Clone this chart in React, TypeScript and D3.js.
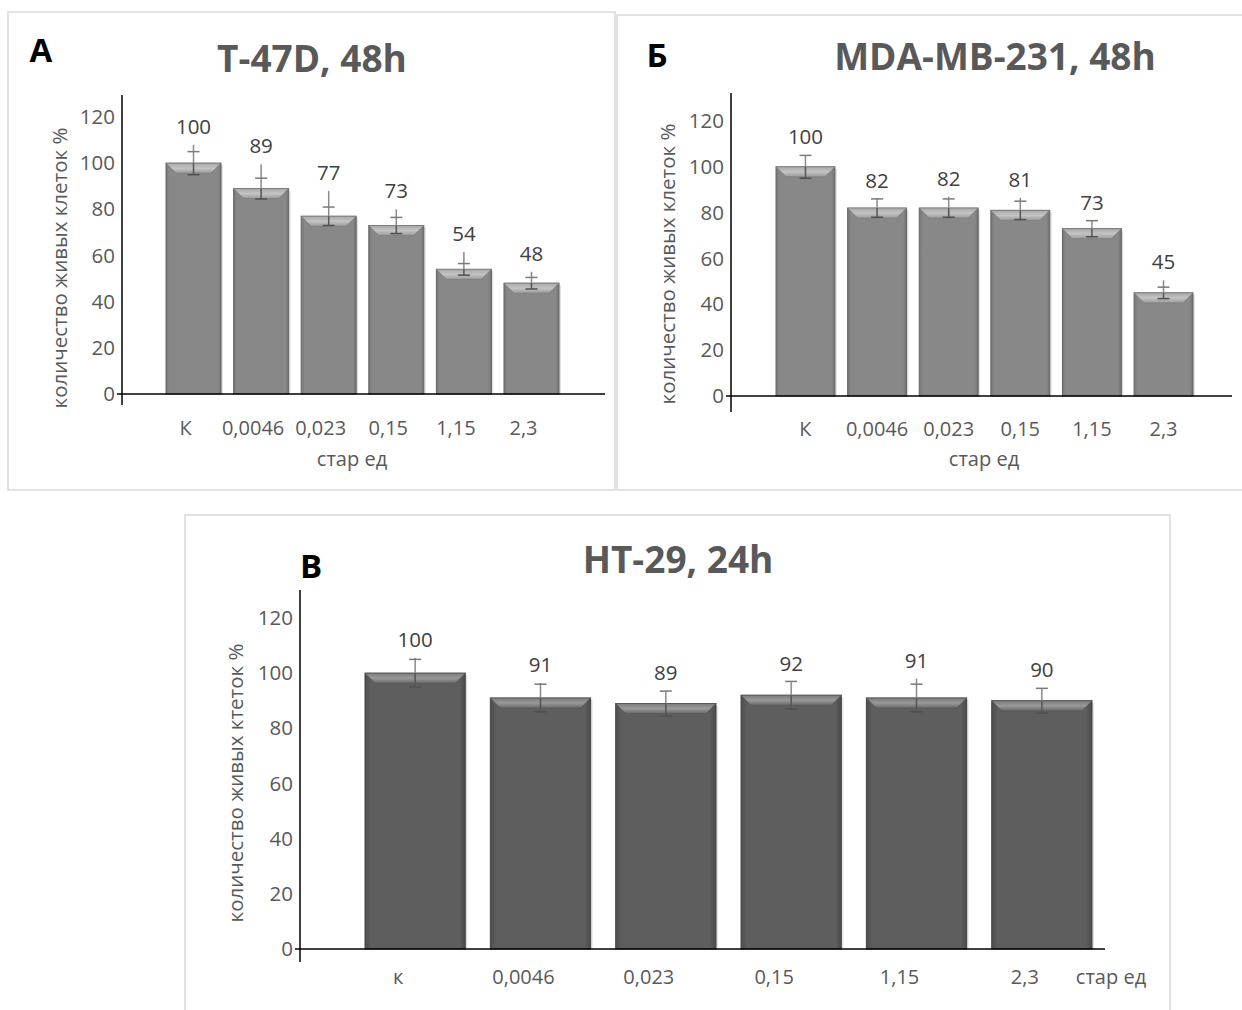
import React from "react";
import * as d3 from "d3";

// ---------- data ----------
const categoriesA = ["К", "0,0046", "0,023", "0,15", "1,15", "2,3"];
const valuesA = [100, 89, 77, 73, 54, 48];
const errorsA = [5, 4.5, 4, 3.5, 2.5, 2.5];
const whiskerTopA = [108, 99.5, 88, 80, 61.5, 53];

const categoriesB = ["К", "0,0046", "0,023", "0,15", "1,15", "2,3"];
const valuesB = [100, 82, 82, 81, 73, 45];
const errorsB = [5, 4, 4, 4, 3.5, 2.5];
const whiskerTopB = [105, 86, 87, 86.5, 76.5, 50.5];

const categoriesC = ["к", "0,0046", "0,023", "0,15", "1,15", "2,3"];
const valuesC = [100, 91, 89, 92, 91, 90];
const errorsC = [5, 5, 4.5, 5, 5, 4.5];
const whiskerTopC = [105.5, 96.5, 93.5, 96.7, 98, 94.6];

const yTicks = [0, 20, 40, 60, 80, 100, 120];

const FONT = "'Open Sans', 'Noto Sans', sans-serif";
const TXT = "#595959";

type PanelCfg = {
  id: string;
  frame: [number, number, number, number];
  letter: string;
  letterPos: [number, number];
  title: string;
  titlePos: [number, number];
  categories: string[];
  values: number[];
  errors: number[];
  whiskers: number[];
  axisX: number;
  y0: number;
  y120: number;
  axisTop: number;
  axisBottom: number;
  xAxisRight: number;
  barRange: [number, number];
  padding: number;
  tickLabelY: number;
  labelShift: number;
  xTitle: string;
  xTitlePos: [number, number];
  yTitle: string;
  yTitlePos: [number, number];
  dark: boolean;
};

function Panel({ c }: { c: PanelCfg }) {
  const y = d3.scaleLinear().domain([0, 120]).range([c.y0, c.y120]);
  const x = d3
    .scaleBand<string>()
    .domain(c.categories)
    .range(c.barRange)
    .paddingInner(c.padding)
    .paddingOuter(0);
  const bw = x.bandwidth();
  const bev = 10;
  return (
    <g>
      <defs>
        <linearGradient id={`body-${c.id}`} x1="0" x2="1" y1="0" y2="0">
          <stop offset="0" stopColor={c.dark ? "#4e4e4e" : "#767676"} />
          <stop offset="0.06" stopColor={c.dark ? "#5e5e5e" : "#888888"} />
          <stop offset="0.94" stopColor={c.dark ? "#5e5e5e" : "#888888"} />
          <stop offset="1" stopColor={c.dark ? "#4a4a4a" : "#727272"} />
        </linearGradient>
        <linearGradient id={`bev-${c.id}`} x1="0" x2="0" y1="0" y2="1">
          <stop offset="0" stopColor={c.dark ? "#7a7a7a" : "#a8a8a8"} />
          <stop offset="0.5" stopColor={c.dark ? "#9a9a9a" : "#c4c4c4"} />
          <stop offset="1" stopColor={c.dark ? "#6a6a6a" : "#9a9a9a"} />
        </linearGradient>
      </defs>
      <rect
        x={c.frame[0]}
        y={c.frame[1]}
        width={c.frame[2] - c.frame[0]}
        height={c.frame[3] - c.frame[1]}
        fill="#fff"
        stroke="#d9d9d9"
        strokeWidth={1.5}
      />
      <text
        x={c.letterPos[0]}
        y={c.letterPos[1]}
        fontFamily={FONT}
        fontWeight={700}
        fontSize={33}
        fill="#000"
        textAnchor="middle"
      >
        {c.letter}
      </text>
      <text
        x={c.titlePos[0]}
        y={c.titlePos[1]}
        fontFamily={FONT}
        fontWeight={700}
        fontSize={37}
        fill={TXT}
        textAnchor="middle"
      >
        {c.title}
      </text>
      {/* y tick labels */}
      {yTicks.map((t) => (
        <text
          key={t}
          x={c.axisX - 7}
          y={y(t) + 7}
          fontFamily={FONT}
          fontSize={20.5}
          fill={TXT}
          textAnchor="end"
        >
          {t}
        </text>
      ))}
      {/* bars */}
      {c.categories.map((cat, i) => {
        const bx = x(cat)!;
        const by = y(c.values[i]);
        const h = c.y0 - by;
        return (
          <g key={cat}>
            <rect x={bx + 2} y={by + 2} width={bw} height={h - 2} fill="#cfcfcf" opacity={0.6} />
            <rect x={bx} y={by} width={bw} height={h} fill={`url(#body-${c.id})`} stroke={c.dark ? "#444" : "#666"} strokeWidth={1} />
            <polygon
              points={`${bx},${by} ${bx + bw},${by} ${bx + bw - bev},${by + bev} ${bx + bev},${by + bev}`}
              fill={`url(#bev-${c.id})`}
              stroke={c.dark ? "#555" : "#777"}
              strokeWidth={0.6}
            />
          </g>
        );
      })}
      {/* error bars + value labels */}
      {c.categories.map((cat, i) => {
        const cx = x(cat)! + bw / 2;
        const v = c.values[i];
        const e = c.errors[i];
        const yt = y(c.whiskers[i]);
        const yHi = y(v + e);
        const yLo = y(v - e);
        return (
          <g key={"e" + cat}>
            <line x1={cx} x2={cx} y1={yt} y2={y(v)} stroke="#8a8a8a" strokeWidth={1.5} />
            <line x1={cx} x2={cx} y1={y(v)} y2={yLo} stroke="#555" strokeWidth={1.5} />
            <line x1={cx - 6} x2={cx + 6} y1={yHi} y2={yHi} stroke="#7a7a7a" strokeWidth={1.5} />
            <line x1={cx - 6} x2={cx + 6} y1={yLo} y2={yLo} stroke="#505050" strokeWidth={1.5} />
            <text
              x={cx}
              y={yt - 11}
              fontFamily={FONT}
              fontSize={20.5}
              fill="#404040"
              textAnchor="middle"
            >
              {v}
            </text>
          </g>
        );
      })}
      {/* axes */}
      <line x1={c.axisX} x2={c.axisX} y1={c.axisTop} y2={c.axisBottom} stroke="#000" strokeWidth={1.5} />
      <line x1={c.axisX - 5} x2={c.xAxisRight} y1={c.y0} y2={c.y0} stroke="#000" strokeWidth={1.5} />
      {/* x tick labels */}
      {c.categories.map((cat) => (
        <text
          key={"t" + cat}
          x={x(cat)! + bw / 2 + c.labelShift}
          y={c.tickLabelY}
          fontFamily={FONT}
          fontSize={20}
          fill={TXT}
          textAnchor="middle"
        >
          {cat}
        </text>
      ))}
      <text
        x={c.xTitlePos[0]}
        y={c.xTitlePos[1]}
        fontFamily={FONT}
        fontSize={20}
        fill={TXT}
        textAnchor="middle"
      >
        {c.xTitle}
      </text>
      <text
        transform={`translate(${c.yTitlePos[0]},${c.yTitlePos[1]}) rotate(-90)`}
        fontFamily={FONT}
        fontSize={20.5}
        fill={TXT}
        textAnchor="middle"
      >
        {c.yTitle}
      </text>
    </g>
  );
}

const panels: PanelCfg[] = [
  {
    id: "a",
    frame: [8, 12, 615, 490],
    letter: "А",
    letterPos: [41, 62],
    title: "T-47D, 48h",
    titlePos: [312, 72],
    categories: categoriesA,
    values: valuesA,
    errors: errorsA,
    whiskers: whiskerTopA,
    axisX: 122,
    y0: 394,
    y120: 117,
    axisTop: 95,
    axisBottom: 405,
    xAxisRight: 605,
    barRange: [166, 559],
    padding: 0.186,
    tickLabelY: 435,
    labelShift: -8,
    xTitle: "стар ед",
    xTitlePos: [352, 466],
    yTitle: "количество живых клеток %",
    yTitlePos: [67, 268],
    dark: false,
  },
  {
    id: "b",
    frame: [617, 15, 1248, 490],
    letter: "Б",
    letterPos: [657, 67],
    title: "MDA-MB-231, 48h",
    titlePos: [995, 70],
    categories: categoriesB,
    values: valuesB,
    errors: errorsB,
    whiskers: whiskerTopB,
    axisX: 731,
    y0: 396,
    y120: 121,
    axisTop: 93,
    axisBottom: 412,
    xAxisRight: 1232,
    barRange: [776, 1193],
    padding: 0.177,
    tickLabelY: 436,
    labelShift: 0,
    xTitle: "стар ед",
    xTitlePos: [984, 466],
    yTitle: "количество живых клеток %",
    yTitlePos: [675, 264],
    dark: false,
  },
  {
    id: "c",
    frame: [185, 515, 1170, 1015],
    letter: "В",
    letterPos: [311, 578],
    title: "HT-29, 24h",
    titlePos: [678, 573],
    categories: categoriesC,
    values: valuesC,
    errors: errorsC,
    whiskers: whiskerTopC,
    axisX: 300,
    y0: 949,
    y120: 618,
    axisTop: 590,
    axisBottom: 962,
    xAxisRight: 1105,
    barRange: [365, 1092],
    padding: 0.2,
    tickLabelY: 984,
    labelShift: -17,
    xTitle: "стар ед",
    xTitlePos: [1111, 984],
    yTitle: "количество живых ктеток %",
    yTitlePos: [243, 783],
    dark: true,
  },
];

export default function App() {
  return (
    <svg
      width={1242}
      height={1010}
      style={{ position: "absolute", left: 0, top: 0, background: "#fff" }}
    >
      <rect x={0} y={0} width={1242} height={1010} fill="#fff" />
      {panels.map((p) => (
        <Panel key={p.id} c={p} />
      ))}
    </svg>
  );
}
